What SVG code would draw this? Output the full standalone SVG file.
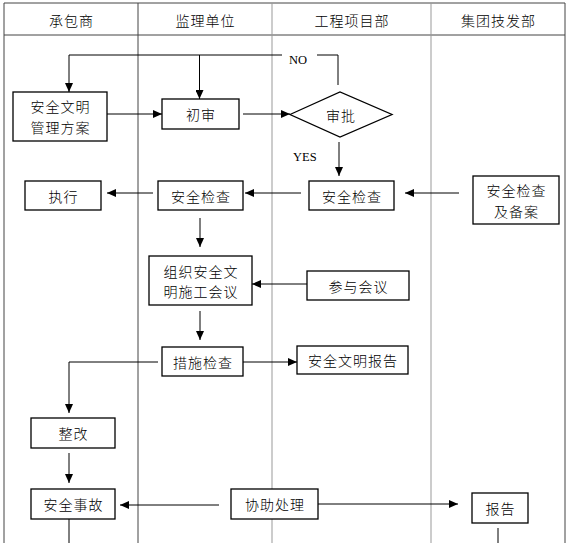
<svg xmlns="http://www.w3.org/2000/svg" width="569" height="543" viewBox="0 0 569 543">
<style>
.frame{stroke:#444;stroke-width:1;fill:none}
.grey{stroke:#999;stroke-width:1;fill:none}
.box{fill:#fff;stroke:#000;stroke-width:1.3}
.ln{stroke:#000;stroke-width:1;fill:none}
.arr{marker-end:url(#ah)}
.t{font-family:"Noto Sans CJK SC","Noto Sans",sans-serif;font-size:14px;font-weight:300;letter-spacing:1px;text-anchor:middle;dominant-baseline:central;fill:#000}
.lat{font-family:"Liberation Serif",serif;font-size:12.5px;fill:#000}
</style>
<defs>
<marker id="ah" markerWidth="9" markerHeight="8" refX="9" refY="4" orient="auto" markerUnits="userSpaceOnUse">
<path d="M0,0 L9,4 L0,8 z" fill="#000"/>
</marker>
</defs>
<rect width="569" height="543" fill="#fff"/>
<g id="lanes">
<path class="frame" d="M4,543 V3 H565 V543 M4,35 H565 M138,3 V543"/>
<path class="grey" d="M272,3 V543 M431,3 V543"/>
<text class="t" x="71.5" y="20">承包商</text>
<text class="t" x="205.5" y="20">监理单位</text>
<text class="t" x="352" y="20">工程项目部</text>
<text class="t" x="498.5" y="20">集团技发部</text>
</g>
<g id="connectors">
<path class="ln" d="M338,85 V55 H317"/>
<path class="ln arr" d="M282,55 H69 V92"/>
<path class="ln arr" d="M199.5,55 V99"/>
<path class="ln arr" d="M107,114 H162"/>
<path class="ln arr" d="M243,114 H290"/>
<path class="ln arr" d="M339,142 V176"/>
<path class="ln arr" d="M459,193 H405"/>
<path class="ln arr" d="M301,193 H245"/>
<path class="ln arr" d="M153,193 H107"/>
<path class="ln arr" d="M200,218 V247"/>
<path class="ln arr" d="M307,284 H252"/>
<path class="ln arr" d="M200,311 V340"/>
<path class="ln arr" d="M243,362 H297"/>
<path class="ln arr" d="M158,362 H69 V413"/>
<path class="ln arr" d="M69,453 V483"/>
<path class="ln arr" d="M219,505 H120"/>
<path class="ln arr" d="M318,504 H458"/>
<path class="ln" d="M69,519 V543"/>
<path class="ln" d="M498,528 V543"/>
<text class="lat" x="289" y="64">NO</text>
<text class="lat" x="293" y="161">YES</text>
</g>
<g id="n-plan">
<rect class="box" x="13" y="92" width="94" height="49"/>
<text class="t" x="60.5" y="106">安全文明</text>
<text class="t" x="60.5" y="127">管理方案</text>
</g>
<g id="n-review">
<rect class="box" x="162" y="99" width="77" height="30"/>
<text class="t" x="201" y="114">初审</text>
</g>
<g id="n-approve">
<polygon class="box" points="290,114.5 340,92 392,114.5 340,137"/>
<text class="t" x="341" y="114.5">审批</text>
</g>
<g id="n-exec">
<rect class="box" x="25" y="181" width="76" height="29"/>
<text class="t" x="63.5" y="195.5">执行</text>
</g>
<g id="n-check-sup">
<rect class="box" x="158" y="181" width="85" height="29"/>
<text class="t" x="201" y="195.5">安全检查</text>
</g>
<g id="n-check-proj">
<rect class="box" x="309" y="181" width="85" height="29"/>
<text class="t" x="352" y="195.5">安全检查</text>
</g>
<g id="n-check-group">
<rect class="box" x="473" y="176" width="86" height="48"/>
<text class="t" x="516.5" y="190">安全检查</text>
<text class="t" x="516.5" y="211">及备案</text>
</g>
<g id="n-meeting">
<rect class="box" x="149" y="256" width="103" height="49"/>
<text class="t" x="201" y="271">组织安全文</text>
<text class="t" x="201" y="291">明施工会议</text>
</g>
<g id="n-join">
<rect class="box" x="307" y="271" width="102" height="29"/>
<text class="t" x="358.5" y="285.5">参与会议</text>
</g>
<g id="n-measure">
<rect class="box" x="162" y="347" width="81" height="29"/>
<text class="t" x="203" y="361.5">措施检查</text>
</g>
<g id="n-report-proj">
<rect class="box" x="297" y="346" width="111" height="28"/>
<text class="t" x="353" y="360">安全文明报告</text>
</g>
<g id="n-fix">
<rect class="box" x="31" y="418" width="84" height="30"/>
<text class="t" x="73.5" y="433">整改</text>
</g>
<g id="n-accident">
<rect class="box" x="31" y="489" width="84" height="30"/>
<text class="t" x="73.5" y="504">安全事故</text>
</g>
<g id="n-assist">
<rect class="box" x="231" y="489" width="87" height="30"/>
<text class="t" x="275" y="504">协助处理</text>
</g>
<g id="n-report">
<rect class="box" x="472" y="493" width="56" height="30"/>
<text class="t" x="500.5" y="508">报告</text>
</g>
</svg>
